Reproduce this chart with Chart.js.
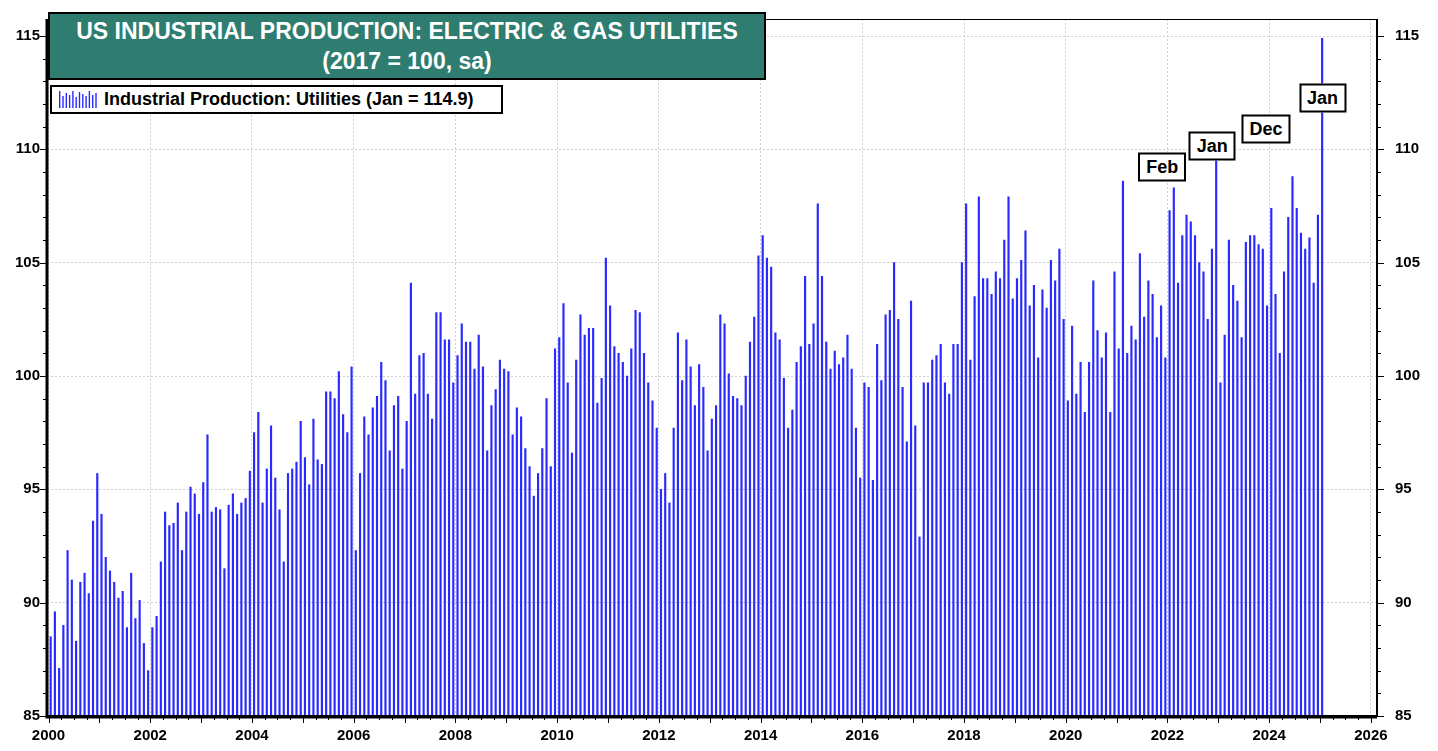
<!DOCTYPE html>
<html>
<head>
<meta charset="utf-8">
<title>US Industrial Production: Electric & Gas Utilities</title>
<script src="https://cdn.jsdelivr.net/npm/chart.js@4/dist/chart.umd.min.js"></script>
<style>
  html, body { margin: 0; padding: 0; background: #fff; }
  #wrap { position: relative; width: 1438px; height: 751px; font-family: "Liberation Sans", Arial, sans-serif; }
  #titleBox {
    position: absolute; left: 48px; top: 12px; width: 718px; height: 68px;
    box-sizing: border-box; background: #2e7d70; border: 2px solid #000;
    color: #fff; font-weight: bold; font-size: 23px; line-height: 30px;
    text-align: center; padding-top: 2px;
  }
  #legendBox {
    position: absolute; left: 50px; top: 85px; width: 453px; height: 29px;
    box-sizing: border-box; background: #fff; border: 2px solid #000;
    font-weight: bold; font-size: 18px; line-height: 25px; padding-left: 52px;
  }
  #legendBox canvas { position: absolute; left: 5px; top: 4px; }
  .note {
    position: absolute; background: #fff; border: 2px solid #000;
    font-weight: bold; font-size: 18px; line-height: 25px; padding: 0 6px;
    transform: translate(-50%, -50%);
  }
</style>
</head>
<body>
<div id="wrap">
  <canvas id="utilitiesChart"></canvas>
  <div id="titleBox">US INDUSTRIAL PRODUCTION: ELECTRIC &amp; GAS UTILITIES<br>(2017 = 100, sa)</div>
  <div id="legendBox"><canvas id="legendIcon" width="42" height="17"></canvas>Industrial Production: Utilities (Jan = 114.9)</div>
</div>
<script>
// Serie mensual, enero 2000 a enero 2025 (una fila por año)
const startYear = 2000;
const utilities = [
  88.5, 89.6, 87.1, 89.0, 92.3, 91.0, 88.3, 90.9, 91.3, 90.4, 93.6, 95.7,
  93.9, 92.0, 91.4, 90.9, 90.2, 90.5, 88.9, 91.3, 89.3, 90.1, 88.2, 87.0,
  88.9, 89.4, 91.8, 94.0, 93.4, 93.5, 94.4, 92.3, 94.0, 95.1, 94.8, 93.9,
  95.3, 97.4, 94.0, 94.2, 94.1, 91.5, 94.3, 94.8, 93.9, 94.4, 94.6, 95.8,
  97.5, 98.4, 94.4, 95.9, 97.8, 95.5, 94.1, 91.8, 95.7, 95.9, 96.2, 98.0,
  96.4, 95.2, 98.1, 96.3, 96.1, 99.3, 99.3, 99.0, 100.2, 98.3, 97.5, 100.4,
  92.3, 95.7, 98.2, 97.4, 98.6, 99.1, 100.6, 99.8, 96.7, 98.7, 99.1, 95.9,
  98.0, 104.1, 99.2, 100.9, 101.0, 99.2, 98.1, 102.8, 102.8, 101.6, 101.6, 99.7,
  100.9, 102.3, 101.5, 101.5, 100.3, 101.8, 100.4, 96.7, 98.7, 99.4, 100.7, 100.3,
  100.2, 97.4, 98.6, 98.2, 96.8, 96.0, 94.7, 95.7, 96.8, 99.0, 96.0, 101.2,
  101.7, 103.2, 99.7, 96.6, 100.7, 102.7, 101.8, 102.1, 102.1, 98.8, 99.9, 105.2,
  103.1, 101.3, 101.0, 100.6, 100.0, 101.2, 102.9, 102.8, 101.0, 99.7, 98.9, 97.7,
  95.0, 95.7, 94.4, 97.7, 101.9, 99.8, 101.6, 100.4, 98.7, 100.5, 99.5, 96.7,
  98.1, 98.7, 102.7, 102.3, 100.1, 99.1, 99.0, 98.7, 100.0, 101.5, 102.6, 105.3,
  106.2, 105.2, 104.8, 101.9, 101.6, 99.9, 97.7, 98.5, 100.6, 101.3, 104.4, 101.4,
  102.3, 107.6, 104.4, 101.5, 100.3, 101.1, 100.5, 100.8, 101.8, 100.3, 97.7, 95.5,
  99.7, 99.5, 95.4, 101.4, 99.8, 102.7, 102.9, 105.0, 102.5, 99.5, 97.1, 103.3,
  97.8, 92.9, 99.7, 99.7, 100.7, 100.9, 101.4, 99.7, 99.2, 101.4, 101.4, 105.0,
  107.6, 100.7, 103.5, 107.9, 104.3, 104.3, 103.6, 104.6, 104.3, 106.0, 107.9, 103.4,
  104.3, 105.1, 106.4, 103.1, 104.0, 100.8, 103.8, 103.0, 105.1, 104.2, 105.6, 102.5,
  98.9, 102.2, 99.2, 100.6, 98.4, 100.6, 104.2, 102.0, 100.8, 101.9, 98.4, 104.6,
  101.2, 108.6, 101.0, 102.2, 101.6, 105.4, 102.6, 104.2, 103.6, 101.7, 103.1, 100.8,
  107.3, 108.3, 104.1, 106.2, 107.1, 106.8, 106.2, 105.0, 104.6, 102.5, 105.6, 109.5,
  99.7, 101.8, 106.0, 104.0, 103.3, 101.7, 105.9, 106.2, 106.2, 105.8, 105.6, 103.1,
  107.4, 103.6, 101.0, 104.6, 107.0, 108.8, 107.4, 106.3, 105.6, 106.1, 104.1, 107.1,
  114.9
];

const xTickYears = [2000, 2002, 2004, 2006, 2008, 2010, 2012, 2014, 2016, 2018, 2020, 2022, 2024, 2026];
const yTickValues = [85, 90, 95, 100, 105, 110, 115];

// Etiquetas de los máximos (mes, año decimal, nivel en el eje)
const noteLabels = ['Feb', 'Jan', 'Dec', 'Jan'];
const noteX = [2021.9, 2022.88, 2023.94, 2025.05];
const noteY = [109.2, 110.15, 110.9, 112.25];

// Cada mes se coloca a mitad de su intervalo
const monthPoints = utilities.map((v, i) => ({ x: startYear + i / 12 + 1 / 24, y: v }));

const BAR_BLUE = '#2a2aff';
const GRID = '#cfcfcf';
const TICK_FONT = { family: '"Liberation Sans", Arial, sans-serif', size: 15, weight: 'bold' };

// Marcas menores en los ejes y marco del gráfico
const axisFrame = {
  id: 'axisFrame',
  afterDraw(chart) {
    const { ctx, chartArea: a, scales: { x, y } } = chart;
    ctx.save();
    ctx.strokeStyle = '#000';
    ctx.lineWidth = 1;
    ctx.beginPath();
    for (let v = 85; v <= 115; v++) {
      const py = Math.round(y.getPixelForValue(v)) + 0.5;
      const len = v % 5 === 0 ? 7 : 4;
      ctx.moveTo(a.left - len, py); ctx.lineTo(a.left, py);
      ctx.moveTo(a.right, py); ctx.lineTo(a.right + len, py);
    }
    for (let yr = 2000; yr <= 2026; yr += 0.25) {
      const px = Math.round(x.getPixelForValue(yr)) + 0.5;
      if (px > a.right) break;
      const len = Number.isInteger(yr) ? 7 : 4;
      ctx.moveTo(px, a.bottom); ctx.lineTo(px, a.bottom + len);
    }
    ctx.stroke();

    ctx.lineWidth = 1;
    ctx.strokeRect(a.left + 0.5, a.top + 0.5, a.right - a.left - 1, a.bottom - a.top - 1);
    ctx.lineWidth = 3;
    ctx.beginPath();
    ctx.moveTo(a.left, a.top); ctx.lineTo(a.left, a.bottom + 1);
    ctx.lineTo(a.right, a.bottom + 1);
    ctx.stroke();
    ctx.lineWidth = 2;
    ctx.beginPath();
    ctx.moveTo(a.right, a.top); ctx.lineTo(a.right, a.bottom);
    ctx.stroke();
    ctx.restore();
  }
};

function placeNotes(chart) {
  const wrap = document.getElementById('wrap');
  noteLabels.forEach((txt, i) => {
    const el = document.createElement('div');
    el.className = 'note';
    el.textContent = txt;
    el.style.left = chart.scales.x.getPixelForValue(noteX[i]) + 'px';
    el.style.top = chart.scales.y.getPixelForValue(noteY[i]) + 'px';
    wrap.appendChild(el);
  });
}

function drawLegendIcon() {
  const c = document.getElementById('legendIcon').getContext('2d');
  c.fillStyle = BAR_BLUE;
  const hs = [17, 12, 15, 13, 17, 11, 16, 14, 12, 17, 13, 15];
  hs.forEach((h, i) => c.fillRect(2 + i * 3.3, 17 - h, 1.4, h));
}

function initUtilitiesChart() {
  const ctx = document.getElementById('utilitiesChart');
  const chart = new Chart(ctx, {
    type: 'bar',
    data: {
      datasets: [{
        label: 'Industrial Production: Utilities',
        data: monthPoints,
        backgroundColor: BAR_BLUE,
        borderWidth: 0,
        barThickness: 1.5,
        base: 85
      }]
    },
    options: {
      responsive: true,
      maintainAspectRatio: false,
      animation: false,
      layout: { padding: { top: 14, left: 0, right: 0, bottom: 0 } },
      plugins: { legend: { display: false }, tooltip: { enabled: false } },
      scales: {
        x: {
          type: 'linear',
          offset: false,
          min: 1999.97,
          max: 2026.12,
          afterBuildTicks: s => { s.ticks = xTickYears.map(v => ({ value: v })); },
          afterFit: s => { s.height = 35; },
          grid: { color: GRID, drawTicks: false, offset: false },
          border: { display: false, dash: [2, 2] },
          ticks: { color: '#000', font: TICK_FONT, padding: 11, maxRotation: 0, autoSkip: false, callback: v => String(v) }
        },
        y: {
          min: 85,
          max: 115.75,
          afterBuildTicks: s => { s.ticks = yTickValues.map(v => ({ value: v })); },
          afterFit: s => { s.width = 47; },
          grid: { color: GRID, drawTicks: false },
          border: { display: false, dash: [2, 2] },
          ticks: { color: '#000', font: TICK_FONT, padding: 7 }
        },
        y2: {
          position: 'right',
          min: 85,
          max: 115.75,
          afterBuildTicks: s => { s.ticks = yTickValues.map(v => ({ value: v })); },
          afterFit: s => { s.width = 61; },
          grid: { display: false },
          border: { display: false },
          ticks: { color: '#000', font: TICK_FONT, padding: 10 }
        }
      }
    },
    plugins: [axisFrame]
  });
  placeNotes(chart);
}

drawLegendIcon();
initUtilitiesChart();
</script>
</body>
</html>
